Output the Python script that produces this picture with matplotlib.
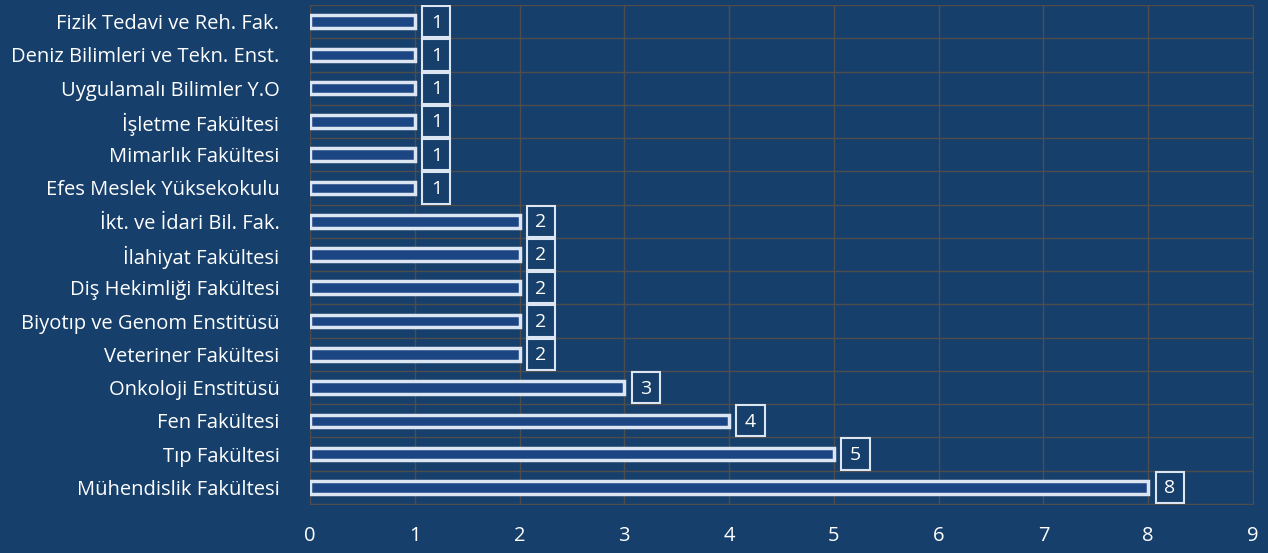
import matplotlib.pyplot as plt
from matplotlib.patches import Rectangle
import numpy as np

plt.rcParams['font.family'] = ['Open Sans', 'DejaVu Sans']

units = ['Fizik Tedavi ve Reh. Fak.', 'Deniz Bilimleri ve Tekn. Enst.', 'Uygulamalı Bilimler Y.O',
         'İşletme Fakültesi', 'Mimarlık Fakültesi', 'Efes Meslek Yüksekokulu',
         'İkt. ve İdari Bil. Fak.', 'İlahiyat Fakültesi', 'Diş Hekimliği Fakültesi',
         'Biyotıp ve Genom Enstitüsü', 'Veteriner Fakültesi', 'Onkoloji Enstitüsü',
         'Fen Fakültesi', 'Tıp Fakültesi', 'Mühendislik Fakültesi']
counts = [1, 1, 1, 1, 1, 1, 2, 2, 2, 2, 2, 3, 4, 5, 8]

bg = '#173f6b'
edge = '#dce6f2'
fig = plt.figure(figsize=(12.68, 5.53), dpi=100, facecolor=bg)
ax = fig.add_axes([310 / 1268, 49 / 553, 943 / 1268, 499 / 553], facecolor=bg)

y = np.arange(len(units))
ax.barh(y, counts, height=0.38, color='#1b4583', edgecolor=edge, linewidth=2.5, zorder=3)

# value labels in boxes that fill the row height
for yi, v in zip(y, counts):
    ax.add_patch(Rectangle((v + 0.07, yi - 0.47), 0.27, 0.94, fc=bg, ec=edge, lw=1.5, zorder=4))
    ax.text(v + 0.205, yi + 0.03, str(v), ha='center', va='center', color='white', fontsize=14, zorder=5)

ax.set_xlim(0, 9)
ax.set_ylim(len(units) - 0.5, -0.5)
ax.set_xticks(range(10))
ax.set_yticks(y)
ax.set_yticklabels(units)
ax.set_yticks(np.arange(-0.5, len(units)), minor=True)
ax.grid(axis='x', color='#4d4d4d', lw=1, zorder=0)
ax.grid(axis='y', which='minor', color='#4d4d4d', lw=1, zorder=0)
ax.tick_params(axis='both', which='both', length=0, colors='white', labelsize=14.5)
ax.tick_params(axis='x', pad=16)
ax.tick_params(axis='y', pad=22)
for s in ax.spines.values():
    s.set_color('#4d4d4d')

fig.savefig('out.png', dpi=100, facecolor=bg)
